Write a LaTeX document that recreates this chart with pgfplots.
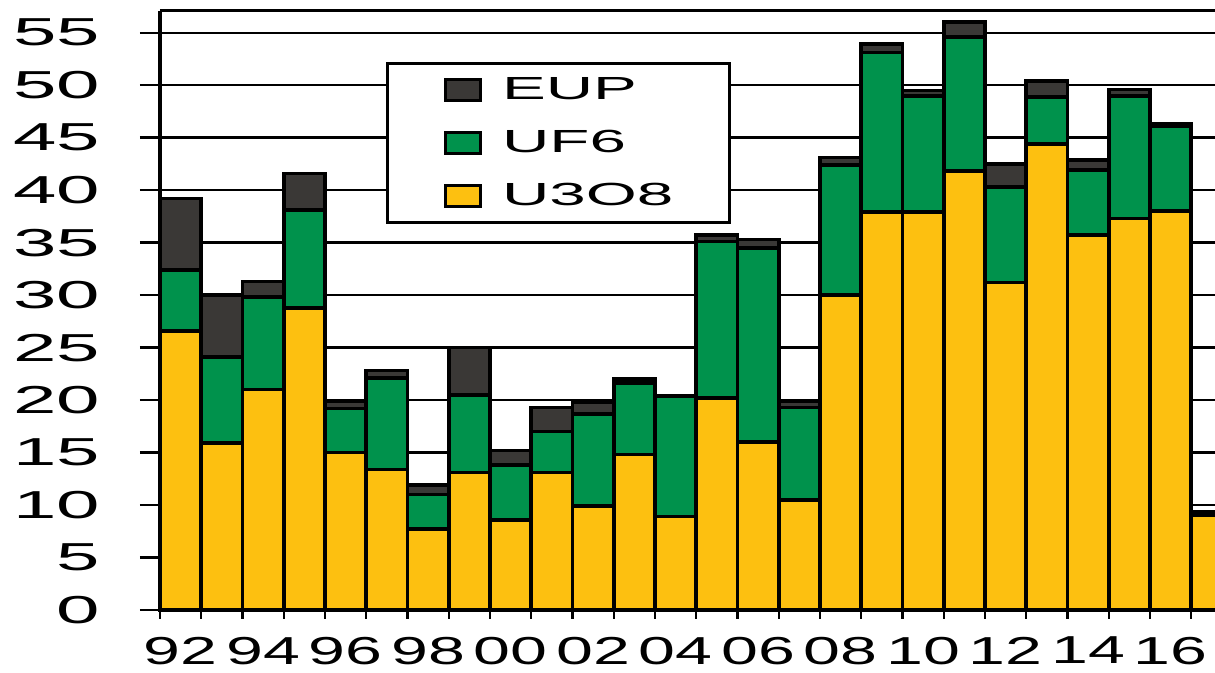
\documentclass[border=0pt]{standalone}
\usepackage{pgfplots}
\pgfplotsset{compat=1.18}
\usepackage{pgfplotstable}
\usepackage{fontspec}
\setmainfont{Liberation Sans}[FakeStretch=1.85]
\newfontfamily\yfont{Liberation Sans}[FakeStretch=2.0]
\newfontfamily\xfont{Liberation Sans}[FakeStretch=1.7]
\newfontfamily\lfont{Liberation Sans}[FakeStretch=2.05]
\definecolor{cU}{RGB}{253,192,16}
\definecolor{cF}{RGB}{0,146,76}
\definecolor{cE}{RGB}{58,56,54}

\pgfplotstableread{
i  u     f     e
0  26.6  5.8   6.8
1  15.9  8.2   5.9
2  21.0  8.8   1.5
3  28.8  9.3   3.5
4  15.0  4.2   0.7
5  13.4  8.7   0.7
6  7.7   3.3   0.9
7  13.1  7.4   4.5
8  8.6   5.2   1.4
9  13.1  3.9   2.3
10 9.9   8.8   1.1
11 14.8  6.8   0.4
12 8.9   11.5  0.0
13 20.2  14.9  0.6
14 16.0  18.5  0.8
15 10.5  8.8   0.6
16 30.0  12.4  0.7
17 37.9  15.2  0.8
18 37.9  11.1  0.5
19 41.8  12.8  1.4
20 31.2  9.1   2.2
21 44.4  4.5   1.5
22 35.7  6.2   1.0
23 37.3  11.7  0.6
24 38.0  8.1   0.2
25 9.0   0.3   0.1
}\data

\begin{document}
\begin{tikzpicture}
\begin{axis}[
  scale only axis, width=536.25pt, height=299.65pt,
  xmin=-0.5, xmax=25.5, ymin=0, ymax=57.1,
  ybar stacked, bar width=1,
  clip=false,
  axis x line*=bottom, axis y line*=left,
  axis line style={line width=2pt},
  ytick={0,5,...,55},
  ymajorgrids, grid style={black, line width=1.2pt},
  tick align=outside,
  major tick length=10pt,
  minor tick length=4.5pt,
  xtick={0,2,...,24},
  xticklabels={92,94,96,98,00,02,04,06,08,10,12,14,16},
  minor xtick={-0.5,0.5,...,25.5},
  major x tick style={draw=none},
  minor x tick style={black, line width=1.2pt},
  major y tick style={black, line width=1.2pt},
  /pgf/number format/assume math mode=true,
  yticklabel style={font=\yfont\fontsize{19.5}{20}\selectfont, text=black, xshift=-16.5pt},
  xticklabel style={font=\xfont\fontsize{19.5}{20}\selectfont, text=black},
  legend style={at={(0.211,0.914)}, anchor=north west, draw=black,
    line width=1.5pt, fill=white, inner xsep=28pt, inner ysep=0pt,
    row sep=0pt, nodes={inner sep=0pt, minimum height=26.5pt},
    font=\lfont\fontsize{16}{18}\selectfont},
  legend cell align=left,
  reverse legend,
  legend image code/.code={\draw[#1, line width=1.5pt] (0pt,-5.25pt) rectangle (17.5pt,5.25pt); \path (27.5pt,0pt);},
]
\addplot[fill=cU, draw=black, line width=1.8pt] table[x=i,y=u]{\data};
\addplot[fill=cF, draw=black, line width=1.8pt] table[x=i,y=f]{\data};
\addplot[fill=cE, draw=black, line width=1.8pt] table[x=i,y=e]{\data};
\legend{U3O8,UF6,EUP}
\draw[line width=1.2pt] (rel axis cs:0,1) -- (rel axis cs:1,1);
\coordinate (o) at (rel axis cs:0,0);
\end{axis}
\pgfresetboundingbox
\path[use as bounding box] (o) ++(-80pt,-31.5pt) rectangle ++(607.5pt,336.5pt);
\end{tikzpicture}
\end{document}
